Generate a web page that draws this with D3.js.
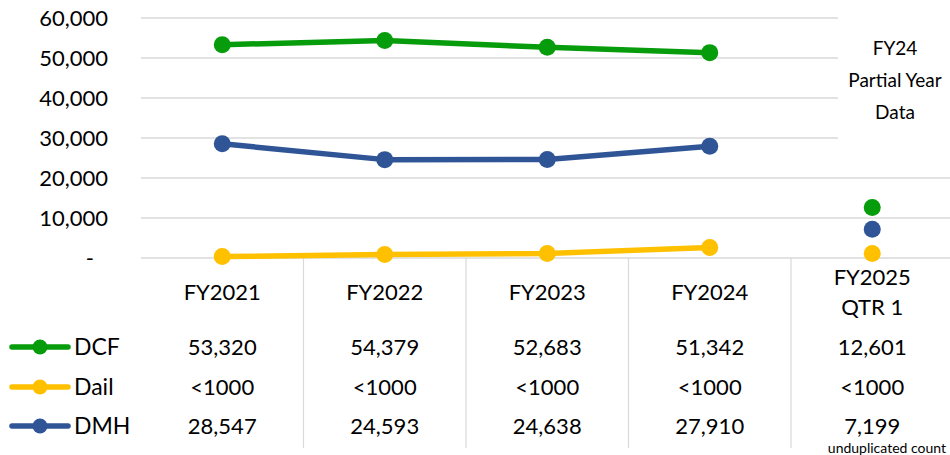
<!DOCTYPE html>
<html>
<head>
<meta charset="utf-8">
<script src="https://cdn.jsdelivr.net/npm/d3@7"></script>
<style>
  body { margin: 0; background: #fff; }
  svg { font-family: Lato, "Open Sans", sans-serif; }
</style>
</head>
<body>
<svg width="950" height="455"></svg>
<script>
const categories = ["FY2021", "FY2022", "FY2023", "FY2024", "FY2025\nQTR 1"];
const seriesNames = ["DCF", "Dail", "DMH"];
const dcfValues = [53320, 54379, 52683, 51342, 12601];
const dailValues = [350, 850, 1150, 2650, 1150];   // plotted, shown as <1000 in table
const dmhValues = [28547, 24593, 24638, 27910, 7199];
const dcfLabels = ["53,320", "54,379", "52,683", "51,342", "12,601"];
const dailLabels = ["<1000", "<1000", "<1000", "<1000", "<1000"];
const dmhLabels = ["28,547", "24,593", "24,638", "27,910", "7,199"];
const yTicks = [0, 10000, 20000, 30000, 40000, 50000, 60000];
const noteLines = ["FY24", "Partial Year", "Data"];

const colors = { DCF: "#079c0b", Dail: "#ffc000", DMH: "#2f5597" };

const series = [
  { name: "DCF", values: dcfValues, labels: dcfLabels },
  { name: "Dail", values: dailValues, labels: dailLabels },
  { name: "DMH", values: dmhValues, labels: dmhLabels }
];

const svg = d3.select("svg");
const x = d3.scaleBand().domain(categories).range([141, 953.5]);
const y = d3.scaleLinear().domain([0, 60000]).range([258, 18]);
const grid = "#d9d9d9";

// gridlines
svg.append("g")
  .selectAll("line")
  .data(yTicks)
  .enter()
  .append("line")
  .attr("x1", 141).attr("x2", 950)
  .attr("y1", d => y(d)).attr("y2", d => y(d))
  .attr("stroke", grid).attr("stroke-width", 1.5);

// y axis labels
const yAxis = d3.axisLeft(y)
  .tickValues(yTicks)
  .tickSize(0)
  .tickPadding(0)
  .tickFormat(d => d === 0 ? "-" : d3.format(",")(d));
const ya = svg.append("g").attr("transform", "translate(108,0)").call(yAxis);
ya.select(".domain").remove();
ya.selectAll("text")
  .attr("font-family", "Lato, sans-serif")
  .attr("font-size", 22)
  .attr("fill", "#000")
  .attr("dy", "0.36em")
  .attr("x", d => d === 0 ? -14 : 0);

// table separators
svg.append("g")
  .selectAll("line")
  .data(categories.slice(1))
  .enter()
  .append("line")
  .attr("x1", d => x(d)).attr("x2", d => x(d))
  .attr("y1", 258).attr("y2", 448)
  .attr("stroke", grid).attr("stroke-width", 1.2);

// note box (covers gridlines)
svg.append("rect")
  .attr("x", 838).attr("y", 0).attr("width", 112).attr("height", 152)
  .attr("fill", "#fff");
svg.append("g")
  .selectAll("text")
  .data(noteLines)
  .enter()
  .append("text")
  .attr("x", 895)
  .attr("y", (d, i) => 55 + i * 32)
  .attr("text-anchor", "middle")
  .attr("font-size", 19)
  .text(d => d);

const cx = d => x(d) + x.bandwidth() / 2;

// lines (first four categories) and markers
const line = d3.line()
  .x((d, i) => cx(categories[i]))
  .y(d => y(d));

series.forEach(s => {
  svg.append("path")
    .datum(s.values.slice(0, 4))
    .attr("d", line)
    .attr("fill", "none")
    .attr("stroke", colors[s.name])
    .attr("stroke-width", 5.5)
    .attr("stroke-linejoin", "round");
  svg.append("g")
    .selectAll("circle")
    .data(s.values)
    .enter()
    .append("circle")
    .attr("cx", (d, i) => cx(categories[i]))
    .attr("cy", d => y(d))
    .attr("r", 8.5)
    .attr("fill", colors[s.name]);
});

// category labels
const catText = svg.append("g")
  .selectAll("text")
  .data(categories)
  .enter()
  .append("text")
  .attr("x", d => cx(d))
  .attr("y", d => d.indexOf("\n") >= 0 ? 285 : 300)
  .attr("text-anchor", "middle")
  .attr("font-size", 22);
catText.each(function (d) {
  const parts = d.split("\n");
  const t = d3.select(this);
  parts.forEach((p, i) => {
    t.append("tspan").attr("x", cx(d)).attr("dy", i === 0 ? 0 : 30).text(p);
  });
});

// data table rows
const rowY = [355, 395, 434];
series.forEach((s, r) => {
  const g = svg.append("g");
  g.append("line")
    .attr("x1", 12).attr("x2", 68)
    .attr("y1", rowY[r] - 8).attr("y2", rowY[r] - 8)
    .attr("stroke", colors[s.name]).attr("stroke-width", 5.5)
    .attr("stroke-linecap", "round");
  g.append("circle")
    .attr("cx", 40).attr("cy", rowY[r] - 8).attr("r", 7.5)
    .attr("fill", colors[s.name]);
  g.append("text")
    .attr("x", 74).attr("y", rowY[r])
    .attr("font-size", 23)
    .text(s.name);
  g.selectAll("text.val")
    .data(s.labels)
    .enter()
    .append("text")
    .attr("class", "val")
    .attr("x", (d, i) => cx(categories[i]))
    .attr("y", rowY[r])
    .attr("text-anchor", "middle")
    .attr("font-size", 22)
    .text(d => d);
});

svg.append("text")
  .attr("x", 946).attr("y", 453)
  .attr("text-anchor", "end")
  .attr("font-size", 14)
  .text("unduplicated count");
</script>
</body>
</html>
